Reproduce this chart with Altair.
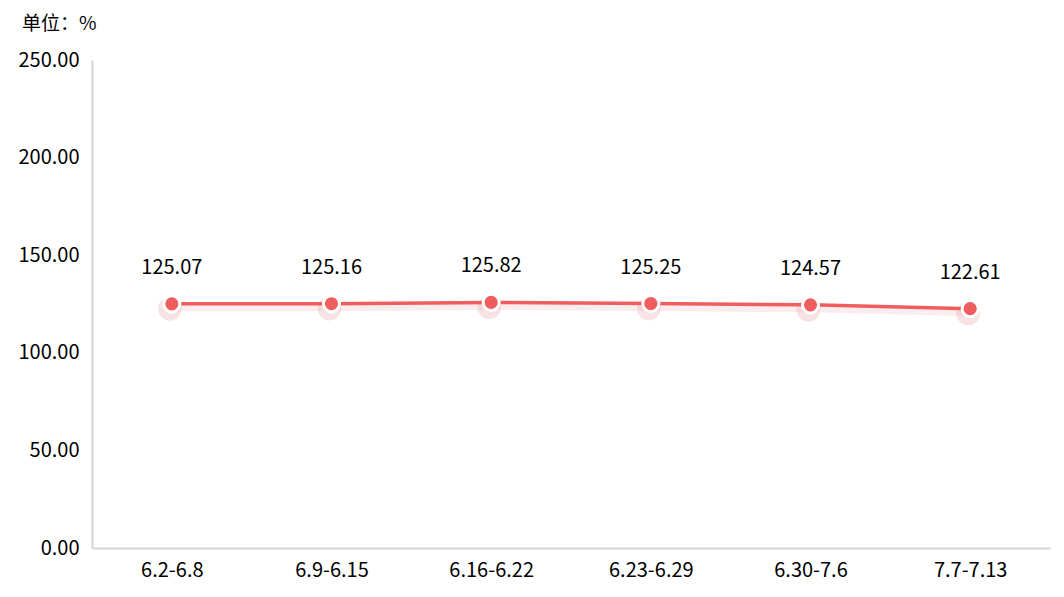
import altair as alt
import pandas as pd

periods = ["6.2-6.8", "6.9-6.15", "6.16-6.22", "6.23-6.29", "6.30-7.6", "7.7-7.13"]
values = [125.07, 125.16, 125.82, 125.25, 124.57, 122.61]

df = pd.DataFrame({"period": periods, "value": values})
df["label"] = df["value"].map(lambda v: f"{v:.2f}")

FONT = "Noto Sans CJK SC"
RED = "#EF5D5F"

x = alt.X("period:N", sort=periods, title=None,
          scale=alt.Scale(type="point", padding=0.5),
          axis=alt.Axis(labelAngle=0, ticks=False, domainColor="#d4d4d4", domainWidth=2,
                        labelFontSize=20, labelColor="#000", labelFont=FONT, labelPadding=12,
                        grid=False))
y = alt.Y("value:Q", title=None,
          scale=alt.Scale(domain=[0, 250], nice=False),
          axis=alt.Axis(values=[0, 50, 100, 150, 200, 250], format=".2f", ticks=False,
                        domainColor="#d4d4d4", domainWidth=2, grid=False,
                        labelFontSize=20, labelColor="#000", labelFont=FONT, labelPadding=13))

base = alt.Chart(df).encode(x=x, y=y)

line_shadow = base.mark_line(color="#e9a3a3", strokeWidth=7, opacity=0.2).encode(
    yOffset=alt.value(4))
dot_shadow = base.mark_circle(color="#e49a9a", size=560, opacity=0.28).encode(
    yOffset=alt.value(5), xOffset=alt.value(-2))
line = base.mark_line(color=RED, strokeWidth=3.5)
points = base.mark_point(filled=False, fill=RED, fillOpacity=1, stroke="white",
                         strokeWidth=3, strokeOpacity=1, size=260, opacity=1)
labels = base.mark_text(dy=-36, fontSize=20, font=FONT, color="#000").encode(text="label:N")

chart = (line_shadow + dot_shadow + line + points + labels).properties(
    width=958, height=488,
    title=alt.Title("单位：%", anchor="start", frame="group", dx=-70, offset=16,
                    fontSize=19, font=FONT, fontWeight="normal", color="#000"),
    autosize=alt.AutoSizeParams(type="none"),
    padding={"left": 84, "top": 52, "right": 6, "bottom": 40},
).configure_view(stroke=None)

chart.save("out.html", embed_options={"renderer": "svg", "actions": False})
